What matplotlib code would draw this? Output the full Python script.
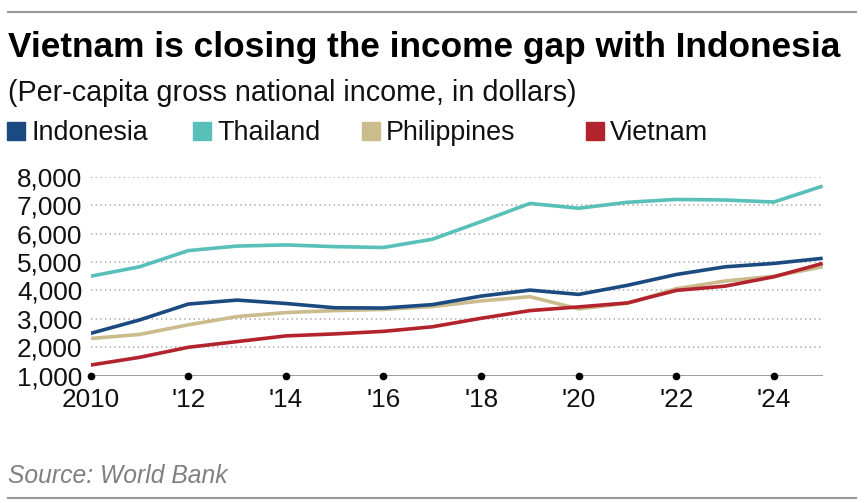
import matplotlib
matplotlib.use("Agg")
import matplotlib.pyplot as plt
from matplotlib.patches import Rectangle
from matplotlib.lines import Line2D

plt.rcParams['font.family'] = ['Liberation Sans', 'DejaVu Sans']

# data
years = list(range(2010, 2026))
indonesia = [2490, 2960, 3520, 3660, 3540, 3390, 3380, 3500, 3800, 4010, 3860, 4180, 4560, 4830, 4950, 5130]
thailand = [4500, 4830, 5400, 5560, 5600, 5540, 5510, 5800, 6420, 7060, 6890, 7100, 7200, 7180, 7110, 7670]
philippines = [2310, 2450, 2790, 3080, 3220, 3290, 3330, 3430, 3630, 3780, 3350, 3550, 4060, 4330, 4500, 4830]
vietnam = [1375, 1645, 2000, 2200, 2400, 2470, 2560, 2720, 3020, 3290, 3420, 3560, 4000, 4150, 4480, 4950]

names = ['Indonesia', 'Thailand', 'Philippines', 'Vietnam']
colors = ['#1b4a80', '#59c0b9', '#cbbc8e', '#b3232d']
series = [indonesia, thailand, philippines, vietnam]
zorders = [4, 3, 2, 5]

xticks = [2010, 2012, 2014, 2016, 2018, 2020, 2022, 2024]
xlabels = ['2010', "'12", "'14", "'16", "'18", "'20", "'22", "'24"]
yticks = [1000, 2000, 3000, 4000, 5000, 6000, 7000, 8000]

W, H = 864, 503
fig = plt.figure(figsize=(W / 100, H / 100), dpi=100)
ax = fig.add_axes([90.7 / W, 1 - 375.7 / H, 732 / W, 199 / H])

for s, c, z in zip(series, colors, zorders):
    ax.plot(years, s, color=c, lw=2.6, zorder=z, solid_capstyle='butt')

ax.set_xlim(2010, 2025)
ax.set_ylim(1000, 8000)
ax.set_yticks(yticks)
ax.set_yticklabels([f'{v:,}' for v in yticks])
ax.set_xticks(xticks)
ax.set_xticklabels(xlabels)
ax.tick_params(length=0, labelsize=18.8, colors='#111111')
ax.tick_params(axis='y', pad=6)
ax.tick_params(axis='x', pad=9)

for v in yticks[1:]:
    ax.axhline(v, color='#aaaaaa', lw=1.2, ls=(0, (0.8, 2.0)), zorder=1)
ax.axhline(1000, color='#8c8c8c', lw=1.2, zorder=1)
ax.plot(xticks, [1000] * len(xticks), 'o', color='black', ms=4.5, clip_on=False, zorder=6)

for sp in ax.spines.values():
    sp.set_visible(False)

# header
fig.text(8 / W, 1 - 57 / H, 'Vietnam is closing the income gap with Indonesia',
         fontsize=25.4, fontweight='bold', va='baseline', ha='left')
fig.text(8 / W, 1 - 101 / H, '(Per-capita gross national income, in dollars)',
         fontsize=20.7, va='baseline', ha='left', color='#111111')

leg_x = [7, 193, 362, 586]
for x, n, c in zip(leg_x, names, colors):
    fig.patches.append(Rectangle((x / W, 1 - 140 / H), 18 / W, 18 / H,
                                 transform=fig.transFigure, color=c))
    fig.text((x + 24) / W, 1 - 140 / H, n, fontsize=19.4, va='baseline', ha='left', color='#111111')

fig.text(8 / W, 1 - 483 / H, 'Source: World Bank', fontsize=17.7, style='italic',
         color='#808080', va='baseline', ha='left')

fig.add_artist(Line2D([8 / W, 856 / W], [1 - 12 / H] * 2, color='#999999', lw=1.5))
fig.add_artist(Line2D([8 / W, 856 / W], [1 - 498 / H] * 2, color='#999999', lw=1.5))

fig.savefig('out.png', dpi=100)
